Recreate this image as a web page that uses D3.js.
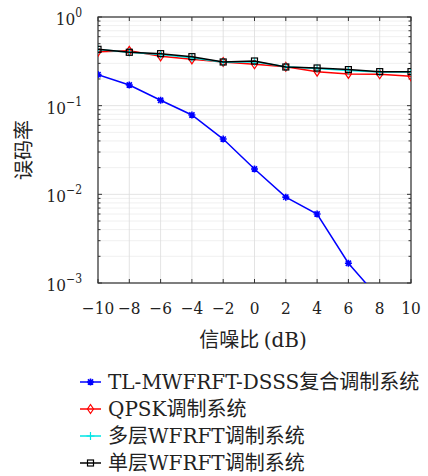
<!DOCTYPE html>
<html>
<head>
<meta charset="utf-8">
<script src="https://cdn.jsdelivr.net/npm/d3@7"></script>
<style>
  body { margin: 0; background: #fff; }
  svg { display: block; }
</style>
</head>
<body>
<svg width="428" height="476"></svg>
<script>
// data
const snr = [-10, -8, -6, -4, -2, 0, 2, 4, 6, 8]
const snrAll = [-10, -8, -6, -4, -2, 0, 2, 4, 6, 8, 10]
const berTL = [0.224, 0.171, 0.115, 0.0785, 0.042, 0.0193, 0.0093, 0.006, 0.00167, 0.00066]
const berQPSK = [0.406, 0.415, 0.36, 0.333, 0.311, 0.293, 0.275, 0.242, 0.228, 0.226, 0.214]
const berMulti = [0.43, 0.40, 0.378, 0.347, 0.308, 0.313, 0.274, 0.262, 0.25, 0.24, 0.24]
const berSingle = [0.432, 0.40, 0.386, 0.357, 0.311, 0.319, 0.273, 0.266, 0.255, 0.242, 0.242]
const xTicks = [-10, -8, -6, -4, -2, 0, 2, 4, 6, 8, 10]
const yTicks = [1, 0.1, 0.01, 0.001]
const legendNames = ["TL-MWFRFT-DSSS复合调制系统", "QPSK调制系统", "多层WFRFT调制系统", "单层WFRFT调制系统"]

const SERIF = "DejaVu Serif Condensed, DejaVu Serif, serif"
const SERIF_WIDE = "DejaVu Serif, serif"
const CJK = "Noto Sans CJK SC, sans-serif"

const svg = d3.select("svg")
const pLeft = 98, pRight = 411, pTop = 17, pBottom = 283

const x = d3.scaleLinear().domain([-10, 10]).range([pLeft, pRight])
const y = d3.scaleLog().domain([0.001, 1]).range([pBottom, pTop])

// grid
const minors = []
for (let d = -3; d < 0; d++) for (let k = 2; k < 10; k++) minors.push(k * Math.pow(10, d))
svg.append("g").selectAll("line").data(minors).enter().append("line")
    .attr("x1", pLeft).attr("x2", pRight)
    .attr("y1", d => y(d)).attr("y2", d => y(d))
    .attr("stroke", "#ececec").attr("stroke-width", 0.8)
svg.append("g").selectAll("line").data(yTicks).enter().append("line")
    .attr("x1", pLeft).attr("x2", pRight)
    .attr("y1", d => y(d)).attr("y2", d => y(d))
    .attr("stroke", "#dcdcdc").attr("stroke-width", 0.8)
svg.append("g").selectAll("line").data(xTicks).enter().append("line")
    .attr("x1", d => x(d)).attr("x2", d => x(d))
    .attr("y1", pTop).attr("y2", pBottom)
    .attr("stroke", "#dcdcdc").attr("stroke-width", 0.8)

// ticks inward on all four sides
const tk = svg.append("g").attr("stroke", "#333").attr("stroke-width", 1)
xTicks.forEach(v => {
    tk.append("line").attr("x1", x(v)).attr("x2", x(v)).attr("y1", pBottom).attr("y2", pBottom - 4)
    tk.append("line").attr("x1", x(v)).attr("x2", x(v)).attr("y1", pTop).attr("y2", pTop + 4)
})
yTicks.forEach(v => {
    tk.append("line").attr("x1", pLeft).attr("x2", pLeft + 4).attr("y1", y(v)).attr("y2", y(v))
    tk.append("line").attr("x1", pRight).attr("x2", pRight - 4).attr("y1", y(v)).attr("y2", y(v))
})
minors.forEach(v => {
    tk.append("line").attr("x1", pLeft).attr("x2", pLeft + 2.5).attr("y1", y(v)).attr("y2", y(v))
    tk.append("line").attr("x1", pRight).attr("x2", pRight - 2.5).attr("y1", y(v)).attr("y2", y(v))
})
svg.append("rect").attr("x", pLeft).attr("y", pTop)
    .attr("width", pRight - pLeft).attr("height", pBottom - pTop)
    .attr("fill", "none").attr("stroke", "#333").attr("stroke-width", 1.2)

// tick labels
svg.append("g").selectAll("text").data(xTicks).enter().append("text")
    .style("font-family", SERIF)
    .attr("x", d => x(d)).attr("y", 314)
    .attr("text-anchor", "middle").attr("font-size", 17).attr("fill", "#222")
    .text(d => d < 0 ? "\u2212" + (-d) : d)

const yl = svg.append("g").selectAll("text").data(yTicks).enter().append("text")
    .style("font-family", SERIF)
    .attr("x", 82).attr("y", d => y(d) + 8)
    .attr("text-anchor", "end").attr("font-size", 17).attr("fill", "#222")
yl.append("tspan").text("10")
yl.append("tspan").attr("dy", -8).attr("font-size", 12).text(d => d === 1 ? "0" : "\u2212" + Math.round(-Math.log10(d)))

// axis titles
svg.append("text").attr("x", 253).attr("y", 347).attr("text-anchor", "middle")
    .attr("fill", "#222")
    .call(t => {
        t.append("tspan").style("font-family", CJK).attr("font-size", 20).text("信噪比 ")
        t.append("tspan").style("font-family", SERIF_WIDE).attr("font-size", 20).text("(dB)")
    })
svg.append("text").style("font-family", CJK)
    .attr("transform", "translate(31,150) rotate(-90)")
    .attr("text-anchor", "middle").attr("font-size", 20).attr("fill", "#222")
    .text("误码率")

// series
svg.append("clipPath").attr("id", "clip").append("rect")
    .attr("x", pLeft).attr("y", pTop).attr("width", pRight - pLeft).attr("height", pBottom - pTop)

const series = [
    { name: legendNames[0], xs: snr, ys: berTL, color: "#0000ff", marker: "star" },
    { name: legendNames[1], xs: snrAll, ys: berQPSK, color: "#ff0000", marker: "diamond" },
    { name: legendNames[2], xs: snrAll, ys: berMulti, color: "#00e5e5", marker: "plus" },
    { name: legendNames[3], xs: snrAll, ys: berSingle, color: "#000000", marker: "square" }
]

function drawMarker(g, type, color, cx, cy) {
    if (type === "star") {
        g.append("path").attr("d", `M${cx-3.5},${cy}h7M${cx},${cy-3.5}v7M${cx-2.6},${cy-2.6}l5.2,5.2M${cx-2.6},${cy+2.6}l5.2,-5.2`)
            .attr("stroke", color).attr("stroke-width", 1.6)
        g.append("circle").attr("cx", cx).attr("cy", cy).attr("r", 1.8).attr("fill", color)
    } else if (type === "diamond") {
        g.append("path").attr("d", `M${cx},${cy-4.5}L${cx+3},${cy}L${cx},${cy+4.5}L${cx-3},${cy}Z`)
            .attr("fill", "none").attr("stroke", color).attr("stroke-width", 1.2)
    } else if (type === "plus") {
        g.append("path").attr("d", `M${cx-4},${cy}h8M${cx},${cy-4}v8`)
            .attr("stroke", color).attr("stroke-width", 1.2)
    } else {
        g.append("rect").attr("x", cx - 3).attr("y", cy - 3).attr("width", 6).attr("height", 6)
            .attr("fill", "none").attr("stroke", color).attr("stroke-width", 1.2)
    }
}

const line = d3.line().x(d => x(d[0])).y(d => y(d[1]))
series.forEach(s => {
    const pts = s.xs.map((v, i) => [v, s.ys[i]])
    const g = svg.append("g").attr("clip-path", "url(#clip)")
    g.append("path").datum(pts).attr("d", line)
        .attr("fill", "none").attr("stroke", s.color).attr("stroke-width", 1.5)
    pts.forEach(p => drawMarker(g, s.marker, s.color, x(p[0]), y(p[1])))
})

// legend
const lg = svg.append("g")
series.forEach((s, i) => {
    const ly = 382 + i * 27
    lg.append("line").attr("x1", 80).attr("x2", 101).attr("y1", ly).attr("y2", ly)
        .attr("stroke", s.color).attr("stroke-width", 1.5)
    drawMarker(lg, s.marker, s.color, 90.5, ly)
    const t = lg.append("text").attr("x", 108).attr("y", ly + 7).attr("fill", "#222")
    // split latin and CJK runs so each gets its own font
    const runs = s.name.match(/[A-Za-z\-]+|[^A-Za-z\-]+/g)
    runs.forEach(r => {
        const latin = /[A-Za-z]/.test(r)
        t.append("tspan").style("font-family", latin ? SERIF_WIDE : CJK)
            .attr("font-size", 20).text(r)
    })
})
</script>
</body>
</html>
